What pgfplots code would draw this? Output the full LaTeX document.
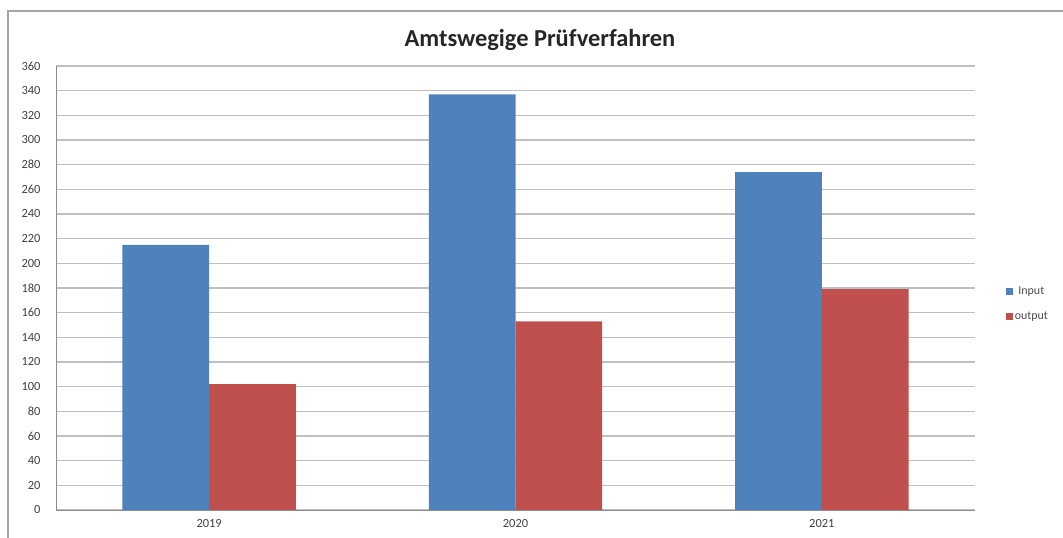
\documentclass[border=0pt]{standalone}
\usepackage{fontspec}
\setmainfont{Carlito}
\usepackage{pgfplots}
\pgfplotsset{compat=1.18}
\definecolor{inblue}{HTML}{4F81BD}
\definecolor{outred}{HTML}{C0504D}
\begin{document}
\begin{tikzpicture}
\useasboundingbox (0bp,0bp) rectangle (1063bp,538bp);
\draw[black!35, line width=1.2bp] (8bp,0bp) -- (8bp,527bp) -- (1063bp,527bp);
\node[font=\fontsize{24.5}{28}\selectfont\bfseries, text=black!85] at (540bp,498bp) {Amtswegige Prüfverfahren};
\begin{axis}[
  at={(56bp,28bp)}, anchor=south west,
  scale only axis, width=919bp, height=444bp,
  xmin=-0.5, xmax=2.5, ymin=0, ymax=360,
  ytick={0,20,...,360},
  xtick={0,1,2}, xticklabels={2019,2020,2021},
  major tick length=0pt,
  ymajorgrids, grid style={black!25, line width=1.2bp},
  axis line style={black!45},
  axis x line*=bottom, axis y line*=left,
  tick label style={font=\fontsize{12.5}{14}\selectfont, text=black!75},
  /pgf/number format/assume math mode=true,
  yticklabel style={xshift=-12bp},
  xticklabel style={yshift=-6bp},
  bar width=0.283,
  legend style={at={(1.03,0.465)}, anchor=west, draw=none, fill=none,
    font=\fontsize{12}{14}\selectfont, text=black!70, row sep=12bp},
  legend image code/.code={\draw[#1, draw=none] (0bp,-3.5bp) rectangle (7bp,3.5bp);},
]
\addplot[ybar, fill=inblue, draw=none, bar shift=-0.1415] coordinates {(0,215) (1,337) (2,274)};
\addlegendentry{Input}
\addplot[ybar, fill=outred, draw=none, bar shift=0.1415] coordinates {(0,102) (1,153) (2,179)};
\addlegendentry{output}
\end{axis}
\end{tikzpicture}
\end{document}
